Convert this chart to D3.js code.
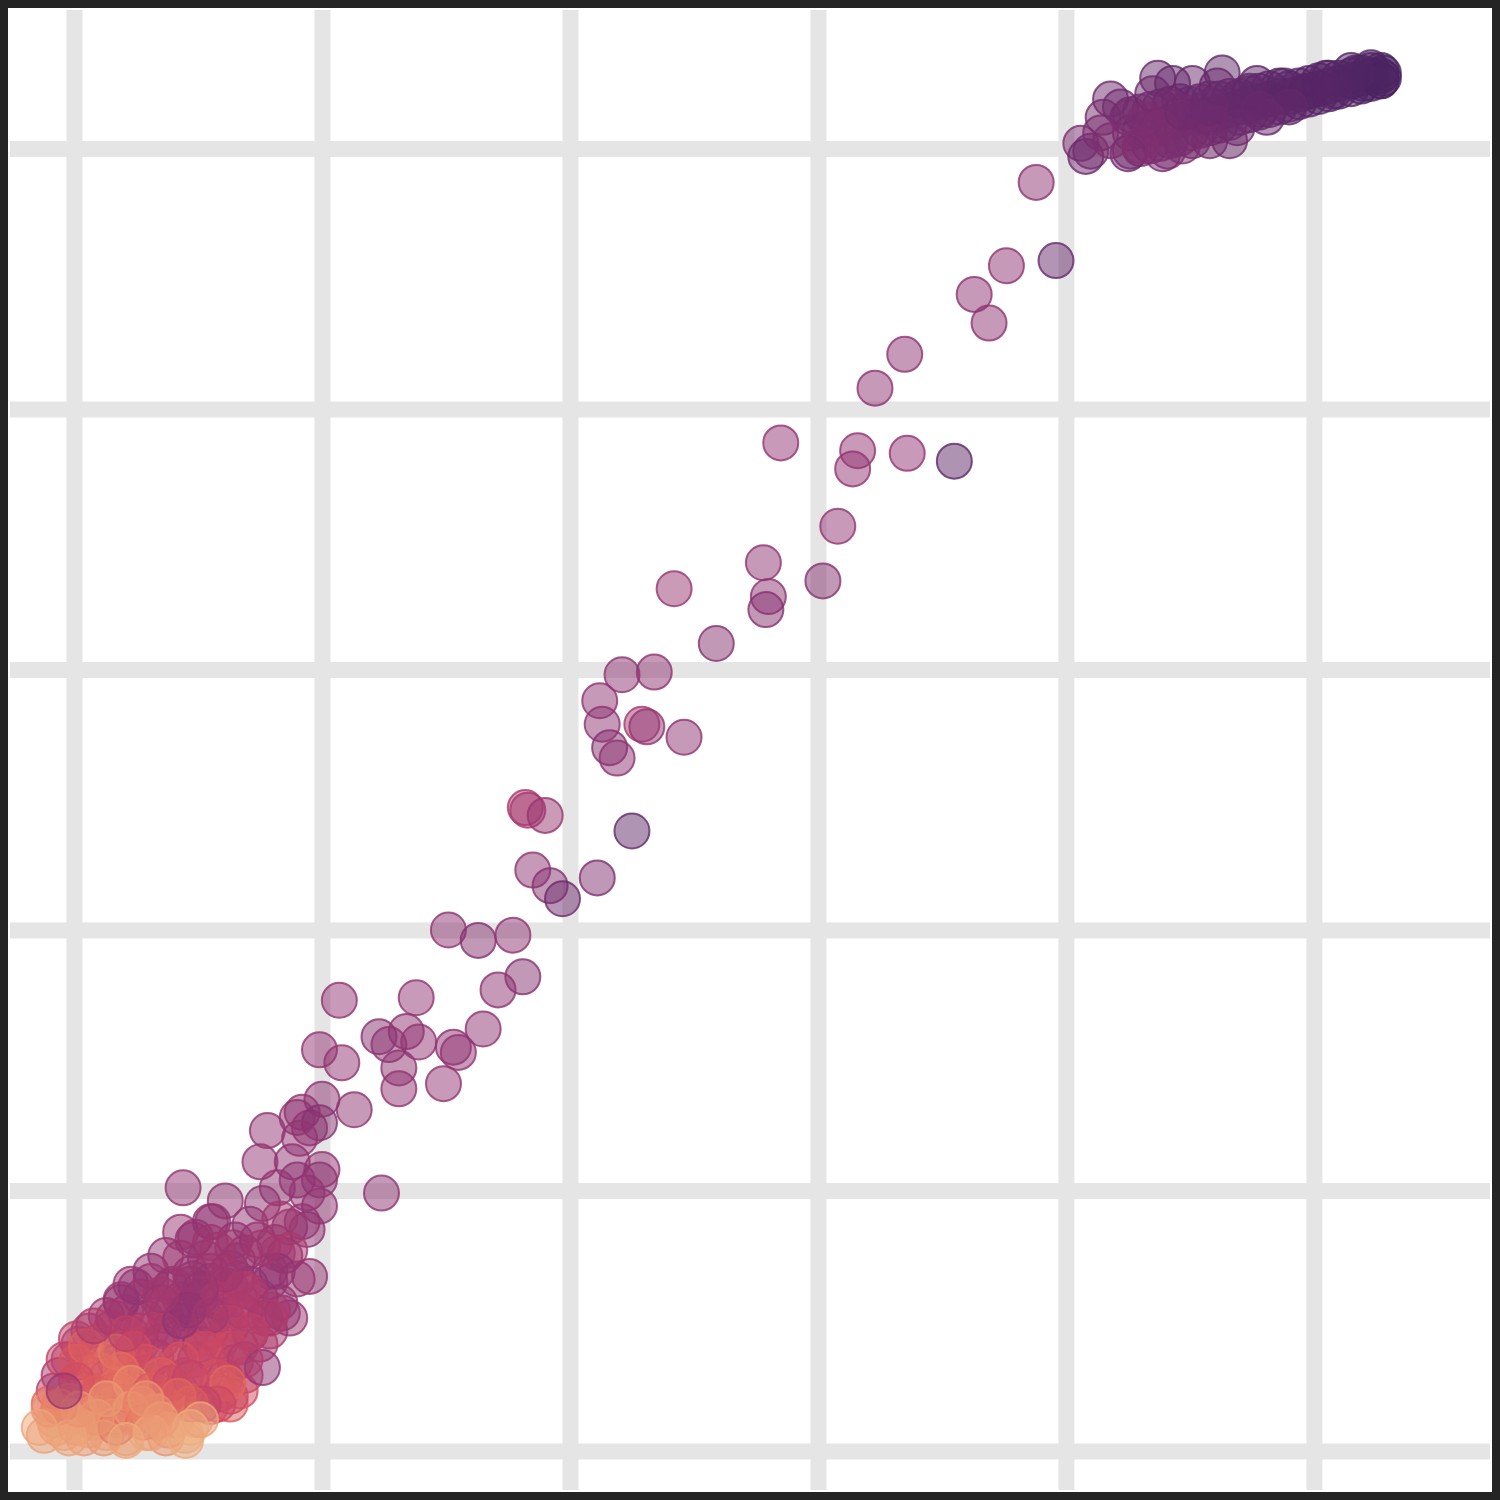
<!DOCTYPE html>
<html>
<head>
<meta charset="utf-8">
<script src="https://cdn.jsdelivr.net/npm/d3@7"></script>
<style>
  body { margin: 0; background: #fff; }
  svg { display: block; }
</style>
</head>
<body>
<div class="scatter-container"></div>
<script>
// grid positions (no labels on the chart)
const xTicks = [0, 1, 2, 3, 4, 5];
const yTicks = [0, 1, 2, 3, 4, 5];

// colour ramp (light orange -> dark purple)
const palette = ['#edb081', '#e98d6b', '#e3685c', '#d14a61', '#b13c6c', '#8f3371', '#6c2b6d', '#4b2362'];

// [x, y, colour value]
const upperBand = [
    [4.26, 5.06, .80], [4.26, 5.13, .80], [4.26, 4.99, .80],
    [4.30, 5.07, .81], [4.30, 5.14, .80], [4.30, 5.00, .80],
    [4.34, 5.08, .82], [4.34, 5.15, .82], [4.34, 5.01, .80],
    [4.38, 5.09, .82], [4.38, 5.16, .83], [4.38, 5.02, .82],
    [4.42, 5.10, .83], [4.42, 5.17, .84], [4.42, 5.03, .82],
    [4.46, 5.11, .84], [4.46, 5.18, .85], [4.46, 5.04, .83],
    [4.50, 5.12, .85], [4.50, 5.17, .86], [4.50, 5.06, .84],
    [4.54, 5.12, .86], [4.54, 5.18, .87], [4.54, 5.07, .85],
    [4.58, 5.13, .87], [4.58, 5.19, .88], [4.58, 5.08, .86],
    [4.62, 5.14, .88], [4.62, 5.19, .89], [4.62, 5.09, .87],
    [4.66, 5.15, .89], [4.66, 5.20, .90], [4.66, 5.10, .88],
    [4.70, 5.16, .90], [4.70, 5.20, .90], [4.70, 5.12, .89],
    [4.74, 5.17, .91], [4.74, 5.21, .91], [4.74, 5.13, .90],
    [4.78, 5.18, .91], [4.78, 5.22, .92], [4.78, 5.14, .90],
    [4.82, 5.19, .92], [4.82, 5.23, .92], [4.82, 5.15, .91],
    [4.86, 5.20, .93], [4.86, 5.24, .93], [4.86, 5.16, .92],
    [4.90, 5.20, .93], [4.90, 5.23, .94], [4.90, 5.17, .93],
    [4.94, 5.21, .94], [4.94, 5.24, .95], [4.94, 5.18, .94],
    [4.98, 5.22, .95], [4.98, 5.25, .95], [4.98, 5.19, .94],
    [5.02, 5.23, .96], [5.02, 5.26, .96], [5.02, 5.20, .95],
    [5.06, 5.24, .96], [5.06, 5.27, .97], [5.06, 5.21, .96],
    [5.10, 5.25, .97], [5.10, 5.27, .97], [5.10, 5.22, .96],
    [5.15, 5.26, .98], [5.15, 5.28, .98], [5.15, 5.23, .97],
    [5.19, 5.27, .98], [5.19, 5.29, .99], [5.19, 5.24, .98],
    [5.23, 5.28, .99], [5.23, 5.30, 1], [5.23, 5.25, .99],
    [5.27, 5.28, 1], [5.27, 5.30, 1], [5.27, 5.26, 1]
];

const upperCluster = [
    [4.18, 5.19, .85], [4.22, 5.16, .85], [4.25, 5.12, .82], [4.15, 5.12, .82], [4.06, 5.02, .80],
    [4.10, 4.99, .82], [4.08, 4.97, .85], [4.25, 4.98, .85], [4.18, 5.03, .78], [4.14, 5.06, .80],
    [4.37, 5.27, .88], [4.43, 5.25, .90], [4.51, 5.25, .88], [4.63, 5.29, .90], [4.35, 5.21, .85],
    [4.42, 5.16, .82], [4.38, 5.08, .78], [4.41, 4.99, .80], [4.51, 5.03, .82], [4.58, 5.12, .85],
    [4.77, 5.25, .92], [4.88, 5.24, .93], [4.97, 5.22, .95], [5.05, 5.27, .95], [5.15, 5.30, .97],
    [5.23, 5.31, .98], [5.28, 5.29, 1], [5.20, 5.25, .98], [5.08, 5.22, .95], [4.90, 5.16, .90],
    [4.81, 5.12, .88], [4.69, 5.08, .85], [4.58, 5.03, .82], [4.47, 5.01, .80], [4.39, 4.98, .80],
    [4.69, 5.19, .88], [4.58, 5.16, .85], [4.47, 5.14, .84], [4.61, 5.24, .88], [4.74, 5.22, .90],
    [4.30, 5.01, .76], [4.32, 5.11, .80], [5.28, 5.27, 1], [5.27, 5.26, 1], [5.17, 5.29, .97],
    [4.66, 5.03, .84], [4.78, 5.15, .88]
];

const diagonal = [
    [3.88, 4.87, .72], [3.96, 4.57, .88], [3.76, 4.55, .72], [3.63, 4.44, .72], [3.69, 4.33, .72],
    [3.35, 4.21, .72], [3.23, 4.08, .72], [2.85, 3.87, .70], [3.16, 3.84, .70], [3.14, 3.77, .70],
    [3.36, 3.83, .70], [3.55, 3.80, .92], [3.08, 3.55, .70], [2.42, 3.31, .68], [2.78, 3.41, .72],
    [2.80, 3.28, .72], [2.79, 3.23, .75], [3.02, 3.34, .75], [2.59, 3.10, .75], [2.21, 2.98, .72],
    [2.34, 2.99, .72], [2.12, 2.88, .72], [2.13, 2.79, .72], [2.29, 2.79, .62], [2.31, 2.78, .70],
    [2.46, 2.74, .72], [2.16, 2.70, .75], [2.19, 2.66, .72], [1.82, 2.47, .60], [1.83, 2.46, .62],
    [1.90, 2.44, .68], [2.25, 2.38, .90], [1.85, 2.23, .72], [1.92, 2.17, .75], [1.97, 2.12, .85],
    [2.11, 2.20, .78], [1.51, 2.00, .72], [1.63, 1.96, .75], [1.77, 1.98, .72], [1.81, 1.82, .75],
    [1.71, 1.77, .72], [1.07, 1.73, .70], [1.38, 1.74, .70], [1.23, 1.59, .75], [1.27, 1.56, .72],
    [1.34, 1.61, .72], [1.39, 1.57, .70], [1.53, 1.55, .72], [1.55, 1.53, .70], [1.65, 1.62, .72],
    [1.08, 1.49, .70], [0.99, 1.54, .70], [1.31, 1.47, .72], [1.31, 1.39, .70], [1.49, 1.41, .70],
    [1.24, 0.99, .72], [1.13, 1.31, .72]
];

const lowerFill = [
    [0.55, 0.88, .72], [0.71, 0.87, .70], [0.87, 0.86, .70],
    [0.49, 0.82, .70], [0.65, 0.81, .70], [0.81, 0.80, .72],
    [0.37, 0.75, .70], [0.53, 0.74, .70], [0.69, 0.76, .70], [0.85, 0.75, .72],
    [0.31, 0.69, .70], [0.47, 0.68, .70], [0.55, 0.69, .67], [0.63, 0.70, .70], [0.79, 0.69, .70],
    [0.23, 0.64, .68], [0.31, 0.65, .66], [0.39, 0.63, .70], [0.47, 0.64, .66], [0.55, 0.65, .70], [0.63, 0.63, .67], [0.71, 0.64, .70], [0.79, 0.65, .68],
    [0.19, 0.58, .66], [0.27, 0.59, .64], [0.35, 0.57, .68], [0.43, 0.58, .65], [0.51, 0.59, .70], [0.59, 0.57, .66], [0.67, 0.58, .70], [0.75, 0.59, .66], [0.83, 0.57, .70],
    [0.13, 0.52, .64], [0.21, 0.53, .60], [0.29, 0.51, .66], [0.37, 0.52, .62], [0.45, 0.53, .70], [0.53, 0.51, .65], [0.61, 0.52, .70], [0.69, 0.53, .64], [0.77, 0.51, .68],
    [0.06, 0.46, .62], [0.15, 0.47, .55], [0.23, 0.45, .60], [0.31, 0.46, .58], [0.39, 0.47, .68], [0.47, 0.45, .62], [0.55, 0.46, .70], [0.63, 0.47, .60], [0.71, 0.45, .65], [0.79, 0.46, .62],
    [0.02, 0.41, .60], [0.10, 0.42, .48], [0.19, 0.40, .55], [0.27, 0.41, .50], [0.35, 0.42, .66], [0.43, 0.40, .58], [0.51, 0.41, .68], [0.59, 0.42, .55], [0.67, 0.40, .62], [0.75, 0.41, .58],
    [-0.02, 0.35, .58], [0.08, 0.36, .40], [0.17, 0.34, .52], [0.25, 0.35, .45], [0.33, 0.36, .62], [0.41, 0.34, .50], [0.49, 0.35, .65], [0.57, 0.36, .48], [0.65, 0.34, .60],
    [-0.06, 0.29, .60], [0.04, 0.30, .35], [0.13, 0.28, .48], [0.21, 0.29, .30], [0.29, 0.30, .55], [0.37, 0.28, .42], [0.45, 0.29, .60], [0.53, 0.30, .45], [0.61, 0.28, .55], [0.69, 0.29, .50],
    [-0.08, 0.23, .55], [0.02, 0.24, .30], [0.10, 0.22, .40], [0.19, 0.23, .22], [0.27, 0.24, .45], [0.35, 0.22, .30], [0.43, 0.23, .50], [0.51, 0.24, .38], [0.59, 0.22, .48], [0.67, 0.23, .42],
    [-0.10, 0.18, .30], [-0.02, 0.19, .12], [0.06, 0.17, .25], [0.15, 0.18, .15], [0.23, 0.19, .35], [0.31, 0.17, .20], [0.39, 0.18, .40], [0.47, 0.19, .28], [0.55, 0.17, .45], [0.63, 0.18, .35],
    [-0.08, 0.12, .15], [0.00, 0.13, .08], [0.08, 0.11, .20], [0.17, 0.12, .05], [0.25, 0.13, .18], [0.33, 0.11, .10], [0.41, 0.12, .25], [0.49, 0.12, .06],
    [-0.12, 0.06, .06], [-0.04, 0.07, .04], [0.04, 0.05, .08], [0.13, 0.07, .02], [0.21, 0.05, .10], [0.29, 0.07, .04], [0.37, 0.05, .12], [0.45, 0.06, .03]
];

const lowerCluster = [
    [1.00, 1.35, .72], [0.92, 1.30, .70], [0.90, 1.28, .72], [0.78, 1.23, .70], [0.95, 1.24, .72],
    [0.99, 1.26, .75], [0.91, 1.20, .70], [0.75, 1.11, .70], [0.88, 1.11, .72], [1.00, 1.08, .70],
    [0.99, 1.04, .72], [0.90, 1.04, .72], [0.82, 1.01, .70], [0.44, 1.01, .70], [0.61, 0.96, .70],
    [0.76, 0.95, .72], [0.94, 0.99, .70], [0.99, 0.94, .70], [0.94, 0.85, .72], [0.92, 0.88, .70],
    [0.83, 0.89, .64], [0.56, 0.88, .70], [0.43, 0.84, .68], [0.48, 0.81, .70], [0.64, 0.78, .66],
    [0.74, 0.81, .68], [0.82, 0.76, .64], [0.66, 0.73, .68], [0.58, 0.77, .64], [0.43, 0.74, .66],
    [0.87, 0.77, .60], [0.82, 0.69, .72], [0.95, 0.67, .70], [0.90, 0.66, .68], [0.48, 0.66, .68],
    [0.59, 0.63, .64], [0.66, 0.66, .66], [0.71, 0.61, .60], [0.84, 0.53, .70], [0.87, 0.51, .68],
    [0.80, 0.54, .62], [0.55, 0.80, .66], [0.76, 0.78, .64],
    [0.25, 0.63, .70], [0.19, 0.57, .70], [0.40, 0.64, .66], [0.47, 0.55, .66], [0.36, 0.55, .60],
    [0.58, 0.58, .56], [0.68, 0.62, .56], [0.63, 0.49, .50], [0.79, 0.51, .58], [0.76, 0.32, .72],
    [0.63, 0.39, .45], [0.52, 0.44, .45], [0.46, 0.54, .72], [0.36, 0.46, .55], [0.27, 0.46, .58],
    [0.16, 0.51, .64], [0.01, 0.43, .50], [-0.04, 0.35, .50], [0.01, 0.34, .38], [0.05, 0.40, .32],
    [0.10, 0.31, .32], [0.17, 0.38, .22], [0.24, 0.39, .42], [0.29, 0.34, .40],
    [0.51, 0.62, .68], [0.43, 0.50, .70], [0.55, 0.52, .64], [0.67, 0.54, .58], [0.35, 0.60, .64],
    [0.61, 0.68, .64], [0.71, 0.46, .52], [0.53, 0.39, .46], [0.21, 0.45, .52], [0.08, 0.48, .58],
    [0.69, 0.35, .56], [0.19, 0.31, .28], [0.43, 0.35, .40], [0.35, 0.29, .34], [0.63, 0.21, .45],
    [0.01, 0.27, .42], [0.09, 0.22, .35], [0.17, 0.23, .30], [0.23, 0.26, .15], [0.31, 0.23, .35],
    [0.39, 0.26, .45], [0.47, 0.28, .50], [0.58, 0.28, .42], [0.62, 0.26, .30], [0.58, 0.18, .45],
    [0.52, 0.18, .50], [0.47, 0.18, .35], [0.42, 0.21, .30],
    [-0.07, 0.09, .08], [0.01, 0.09, .10], [0.06, 0.08, .05], [0.16, 0.13, .20], [0.17, 0.09, .35],
    [0.23, 0.16, .10], [0.28, 0.11, .25], [0.33, 0.15, .15], [0.38, 0.08, .12], [0.47, 0.09, 0],
    [-0.10, 0.16, .15], [-0.06, 0.17, .20], [0.09, 0.13, .12], [0.13, 0.20, .10], [0.27, 0.18, .20],
    [0.31, 0.07, .05], [0.12, 0.05, .10], [-0.02, 0.05, .05], [-0.14, 0.09, .05], [0.21, 0.04, .03],
    [0.45, 0.04, .02], [0.35, 0.12, .08], [0.02, 0.16, .12], [0.51, 0.12, .05], [0.29, 0.20, .12],
    [-0.04, 0.23, .66]
];

const size = 1500;
const border = 8;
const plot = { left: 10, top: 10, right: 1490, bottom: 1490 };

const svg = d3.select('.scatter-container').append('svg')
    .attr('width', size)
    .attr('height', size);

// frame
svg.append('rect')
    .attr('width', size)
    .attr('height', size)
    .attr('fill', '#242424');
svg.append('rect')
    .attr('x', border)
    .attr('y', border)
    .attr('width', size - 2 * border)
    .attr('height', size - 2 * border)
    .attr('fill', '#ffffff');

// scales
const x = d3.scaleLinear().domain([-0.258, 5.71]).range([plot.left, plot.right]);
const y = d3.scaleLinear().domain([-0.15, 5.532]).range([plot.bottom, plot.top]);
const color = d3.scaleLinear()
    .domain(d3.range(palette.length).map(i => i / (palette.length - 1)))
    .range(palette)
    .interpolate(d3.interpolateRgb);

// grid lines through the axes
const gridX = svg.append('g')
    .attr('transform', `translate(0, ${plot.bottom})`)
    .call(d3.axisBottom(x).tickValues(xTicks).tickSize(-(plot.bottom - plot.top)).tickFormat(''));
const gridY = svg.append('g')
    .attr('transform', `translate(${plot.left}, 0)`)
    .call(d3.axisLeft(y).tickValues(yTicks).tickSize(-(plot.right - plot.left)).tickFormat(''));

[gridX, gridY].forEach(g => {
    g.select('.domain').remove();
    g.selectAll('.tick line')
        .attr('stroke', '#e5e5e5')
        .attr('stroke-width', 16);
});

// points
const points = upperBand.concat(upperCluster, diagonal, lowerFill, lowerCluster);

svg.append('g')
    .selectAll('circle')
    .data(points)
    .join('circle')
    .attr('cx', d => x(d[0]))
    .attr('cy', d => y(d[1]))
    .attr('r', 17.5)
    .attr('fill', d => color(d[2]))
    .attr('fill-opacity', 0.5)
    .attr('stroke', d => color(d[2]))
    .attr('stroke-opacity', 0.8)
    .attr('stroke-width', 2);
</script>
</body>
</html>
